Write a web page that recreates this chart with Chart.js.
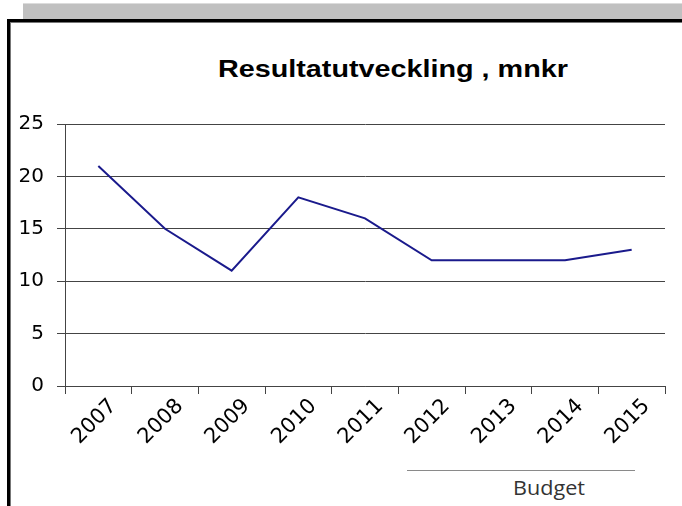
<!DOCTYPE html>
<html>
<head>
<meta charset="utf-8">
<script src="https://cdn.jsdelivr.net/npm/chart.js@4/dist/chart.umd.min.js"></script>
<style>
body{margin:0;width:682px;height:506px;background:#fff;position:relative;overflow:hidden;}
#bar{position:absolute;left:23px;top:3px;width:659px;height:16px;background:#c0c0c0;border-top:1px solid #dcdcdc;}
#frame{position:absolute;left:7px;top:19px;width:675px;height:487px;border-top:3px solid #000;border-left:3px solid #000;box-shadow:inset 1px 1px 0 #777;box-sizing:border-box;}
#title{position:absolute;left:0;top:58px;width:786px;text-align:center;font:bold 23px/23px "Liberation Sans",Arial,sans-serif;color:#000;}
#title span{display:inline-block;transform:scaleX(1.25);}
#budgetLine{position:absolute;left:407px;top:470px;width:228px;border-top:1px solid #8a8a8a;}
#budget{position:absolute;left:513px;top:478px;font:20px/20px "Open Sans",sans-serif;color:#333;transform:scaleX(1.08);transform-origin:left center;}
#wrap{position:absolute;left:0;top:0;width:682px;height:506px;}
</style>
</head>
<body>
<div id="bar"></div>
<div id="frame"></div>
<div id="title"><span>Resultatutveckling , mnkr</span></div>
<div id="budgetLine"></div>
<div id="budget">Budget</div>
<div id="wrap"><canvas id="chart"></canvas></div>
<script>

/* DATA */

const years = ["2007","2008","2009","2010","2011","2012","2013","2014","2015"];
const result = [21, 15, 11, 18, 16, 12, 12, 12, 13];

const yMin = 0;
const yMax = 25;
const yStep = 5;


/* CHART */

let chart;

function initChart(){

const ctx = document.getElementById("chart");

chart = new Chart(ctx,{
type:"line",
data:{
labels:years,
datasets:[{
data:result,
borderColor:"#1a1a8c",
borderWidth:2,
pointRadius:0,
tension:0
}]
},
options:{
responsive:true,
maintainAspectRatio:false,
animation:false,
layout:{padding:{top:124,right:17,bottom:20,left:0}},
plugins:{legend:{display:false},tooltip:{enabled:false}},
scales:{
x:{
offset:true,
border:{display:true,color:"#444",width:1},
grid:{drawOnChartArea:false,offset:true,tickLength:8,color:"#444"},
ticks:{
color:"#000",
font:{family:"DejaVu Sans",size:21},
minRotation:45,
maxRotation:45,
labelOffset:15,
padding:0
},
afterFit:(s)=>{s.height=100;}
},
y:{
min:yMin,
max:yMax,
border:{display:true,color:"#444",width:1},
grid:{color:"#444",tickLength:8},
ticks:{
stepSize:yStep,
color:"#000",
font:{family:"DejaVu Sans",size:20},
padding:13
},
afterFit:(s)=>{s.width=65;}
}
}
}
});

}

window.onload = initChart;

</script>
</body>
</html>
